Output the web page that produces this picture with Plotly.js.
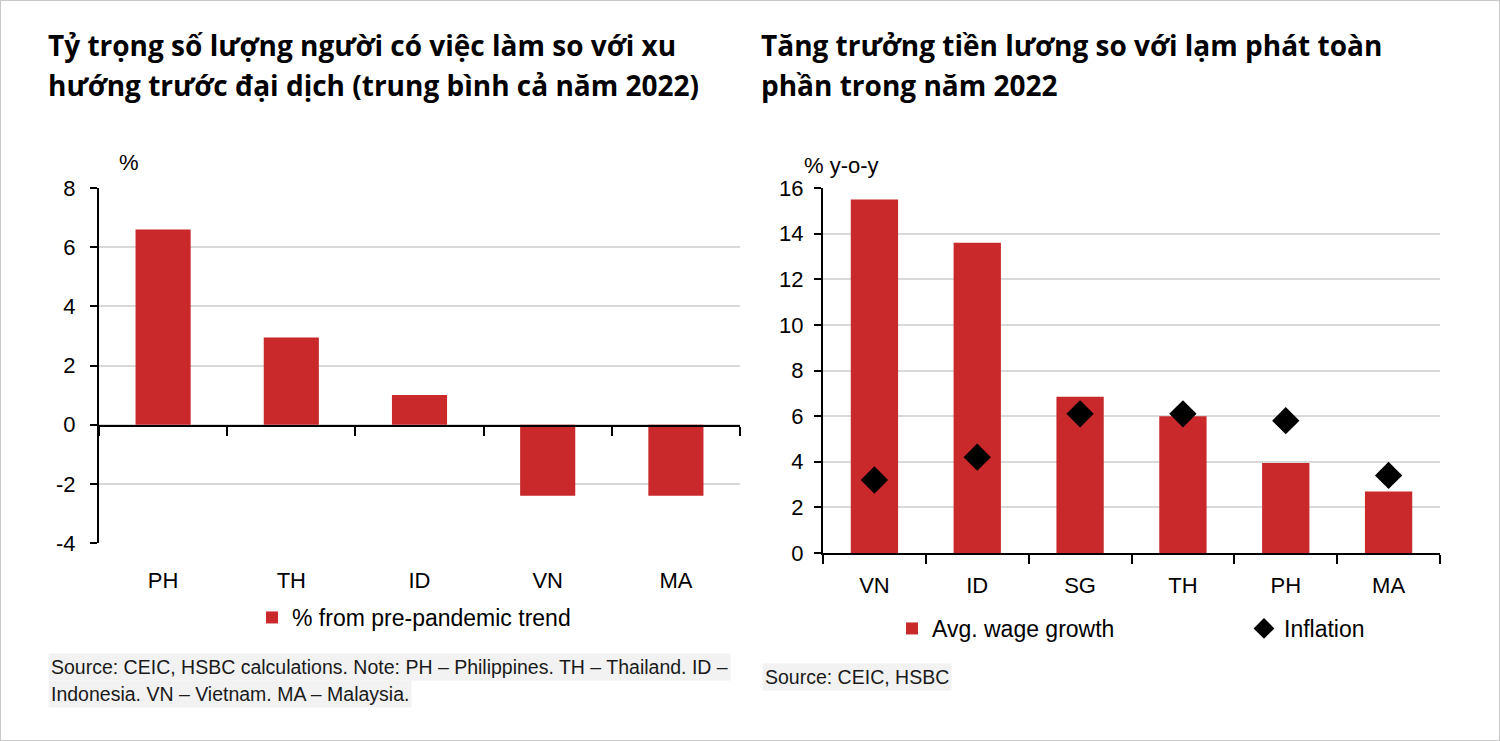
<!DOCTYPE html>
<html>
<head>
<meta charset="utf-8">
<script src="https://cdn.plot.ly/plotly-3.0.1.min.js"></script>
<style>
    body { margin: 0; background: #ffffff; }
    #plotDiv { width: 1500px; height: 741px; }
</style>
</head>
<body>
<div id="plotDiv"></div>
<script>
// left chart: employment vs pre-pandemic trend
var employCountries = ['PH', 'TH', 'ID', 'VN', 'MA'];
var employValues = [6.6, 2.95, 1.0, -2.4, -2.4];

// right chart: wage growth vs inflation
var wageCountries = ['VN', 'ID', 'SG', 'TH', 'PH', 'MA'];
var wageGrowth = [15.5, 13.6, 6.85, 6.0, 3.95, 2.7];
var inflation = [3.2, 4.2, 6.1, 6.1, 5.8, 3.4];

var leftTicks = [-4, -2, 0, 2, 4, 6, 8];
var leftTickText = ['-4', '-2', '0', '2', '4', '6', '8'];
var rightTicks = [0, 2, 4, 6, 8, 10, 12, 14, 16];

var barColor = '#c9292a';
var gridColor = '#d9d9d9';
var narrowFont = '"Liberation Sans Narrow", "Arial Narrow", "Liberation Sans", Arial, sans-serif';
var titleFont = '"Open Sans", "Noto Sans", sans-serif';

window.onload = function () {
    initializePlotDiv();
};

// pixel position -> paper fraction
function px(x) { return x / 1500; }
function py(y) { return 1 - y / 741; }

function initializePlotDiv() {
    var plotDiv = document.getElementById('plotDiv');

    var trace_employ = {
        x: employCountries,
        y: employValues,
        type: 'bar',
        width: 0.43,
        marker: {color: barColor},
        name: '% from pre-pandemic trend',
        xaxis: 'x',
        yaxis: 'y',
        legend: 'legend'
    };
    // same data on the axis drawn at zero, only to carry the boundary ticks
    var trace_employ_zero = {
        x: employCountries,
        y: employValues,
        type: 'scatter',
        mode: 'markers',
        marker: {opacity: 0},
        hoverinfo: 'skip',
        showlegend: false,
        xaxis: 'x3',
        yaxis: 'y'
    };
    var trace_wage = {
        x: wageCountries,
        y: wageGrowth,
        type: 'bar',
        width: 0.46,
        marker: {color: barColor},
        name: 'Avg. wage growth',
        xaxis: 'x2',
        yaxis: 'y2',
        legend: 'legend2'
    };
    var trace_inflation = {
        x: wageCountries,
        y: inflation,
        type: 'scatter',
        mode: 'markers',
        marker: {symbol: 'diamond', size: 21, color: '#000000'},
        name: 'Inflation',
        xaxis: 'x2',
        yaxis: 'y2',
        legend: 'legend3'
    };

    var tickFont = {family: narrowFont, size: 22, color: '#000000'};
    var legendFont = {family: narrowFont, size: 23, color: '#000000'};

    var layoutOpt = {
        width: 1500,
        height: 741,
        autosize: false,
        margin: {l: 0, r: 0, t: 0, b: 0, autoexpand: false},
        paper_bgcolor: '#ffffff',
        plot_bgcolor: 'rgba(0,0,0,0)',
        showlegend: true,
        xaxis: {
            domain: [px(99), px(740)],
            anchor: 'y',
            type: 'category',
            categoryarray: employCountries,
            range: [-0.5, 4.5],
            showline: false,
            ticks: '',
            showgrid: false,
            tickfont: tickFont,
            ticklabelstandoff: 22
        },
        xaxis3: {
            overlaying: 'x',
            anchor: 'free',
            position: py(426),
            type: 'category',
            categoryarray: employCountries,
            range: [-0.5, 4.5],
            showline: true,
            linecolor: '#000000',
            linewidth: 2,
            ticks: 'outside',
            tickson: 'boundaries',
            ticklen: 9,
            tickwidth: 2,
            tickcolor: '#000000',
            showticklabels: false,
            showgrid: false
        },
        yaxis: {
            domain: [py(543), py(188)],
            anchor: 'x',
            range: [-4, 8],
            tickvals: leftTicks,
            ticktext: leftTickText,
            showline: true,
            linecolor: '#000000',
            linewidth: 2,
            ticks: 'outside',
            ticklen: 7,
            tickwidth: 2,
            tickcolor: '#000000',
            showgrid: true,
            gridcolor: gridColor,
            gridwidth: 2,
            zeroline: false,
            tickfont: tickFont,
            ticklabelstandoff: 10
        },
        xaxis2: {
            domain: [px(823), px(1440)],
            anchor: 'y2',
            type: 'category',
            categoryarray: wageCountries,
            range: [-0.5, 5.5],
            showline: true,
            linecolor: '#000000',
            linewidth: 2,
            ticks: 'outside',
            tickson: 'boundaries',
            ticklen: 9,
            tickwidth: 2,
            tickcolor: '#000000',
            showgrid: false,
            tickfont: tickFont,
            ticklabelstandoff: 12
        },
        yaxis2: {
            domain: [py(553), py(188)],
            anchor: 'x2',
            range: [0, 16],
            tickvals: rightTicks,
            showline: true,
            linecolor: '#000000',
            linewidth: 2,
            ticks: 'outside',
            ticklen: 7,
            tickwidth: 2,
            tickcolor: '#000000',
            showgrid: true,
            gridcolor: gridColor,
            gridwidth: 2,
            zeroline: false,
            tickfont: tickFont,
            ticklabelstandoff: 6
        },
        legend: {
            orientation: 'h',
            x: px(252),
            y: py(596),
            xanchor: 'left',
            yanchor: 'top',
            bgcolor: 'rgba(0,0,0,0)',
            font: legendFont
        },
        legend2: {
            orientation: 'h',
            x: px(892),
            y: py(607),
            xanchor: 'left',
            yanchor: 'top',
            bgcolor: 'rgba(0,0,0,0)',
            font: legendFont
        },
        legend3: {
            orientation: 'h',
            x: px(1244),
            y: py(607),
            xanchor: 'left',
            yanchor: 'top',
            bgcolor: 'rgba(0,0,0,0)',
            font: legendFont
        },
        annotations: [
            titleLine('Tỷ trọng số lượng người có việc làm so với xu', 46, 45),
            titleLine('hướng trước đại dịch (trung bình cả năm 2022)', 46, 85),
            titleLine('Tăng trưởng tiền lương so với lạm phát toàn', 759, 45),
            titleLine('phần trong năm 2022', 759, 85),
            unitLabel('%', 117, 163),
            unitLabel('% y-o-y', 802, 165),
            sourceLine('Source: CEIC, HSBC calculations. Note: PH – Philippines. TH – Thailand. ID –', 48, 667),
            sourceLine('Indonesia. VN – Vietnam. MA – Malaysia.', 48, 694),
            sourceLine('Source: CEIC, HSBC', 762, 677)
        ],
        shapes: [{
            type: 'rect',
            xref: 'paper', yref: 'paper',
            x0: 0, x1: 1, y0: 0, y1: 1,
            line: {color: '#c8c8c8', width: 2}
        }]
    };

    var plotData = [trace_employ, trace_employ_zero, trace_wage, trace_inflation];
    Plotly.newPlot(plotDiv, plotData, layoutOpt, {staticPlot: true});
}

function titleLine(text, x, y) {
    return {
        text: '<b>' + text + '</b>',
        xref: 'paper', yref: 'paper',
        x: px(x), y: py(y),
        xanchor: 'left', yanchor: 'middle',
        showarrow: false,
        font: {family: titleFont, size: 28, color: '#000000'}
    };
}

function unitLabel(text, x, y) {
    return {
        text: text,
        xref: 'paper', yref: 'paper',
        x: px(x), y: py(y),
        xanchor: 'left', yanchor: 'middle',
        showarrow: false,
        font: {family: narrowFont, size: 22, color: '#000000'}
    };
}

function sourceLine(text, x, y) {
    return {
        text: text,
        xref: 'paper', yref: 'paper',
        x: px(x), y: py(y),
        xanchor: 'left', yanchor: 'middle',
        showarrow: false,
        bgcolor: '#f2f2f2',
        borderpad: 2,
        font: {family: narrowFont, size: 19.5, color: '#1a1a1a'}
    };
}
</script>
</body>
</html>
